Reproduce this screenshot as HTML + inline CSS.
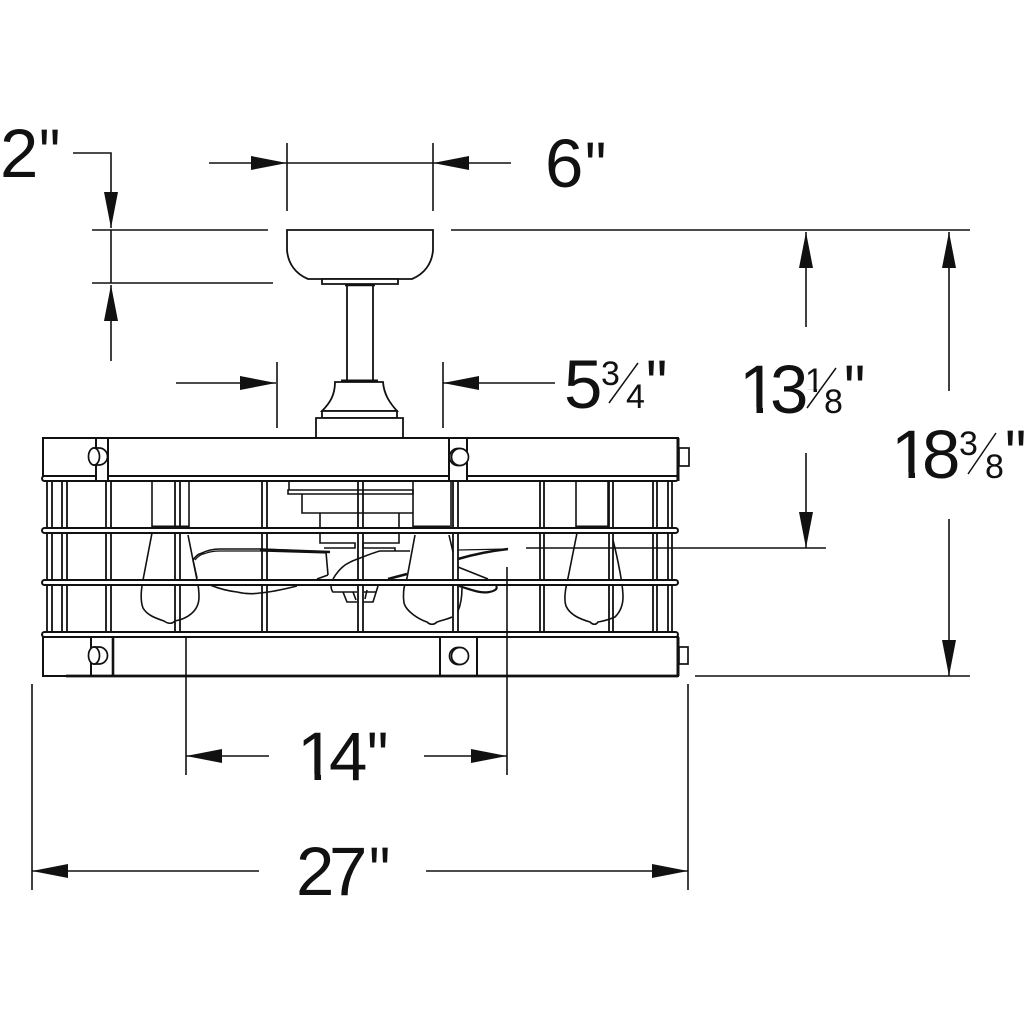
<!DOCTYPE html>
<html><head><meta charset="utf-8"><style>
html,body{margin:0;padding:0;background:#fff}
svg{display:block}
text{font-family:"Liberation Sans",sans-serif;fill:#111}
.b{font-size:69px}
.s{font-size:34px}
</style></head><body>
<svg width="1024" height="1024" viewBox="0 0 1024 1024" xmlns="http://www.w3.org/2000/svg">
<rect width="1024" height="1024" fill="#fff"/>
<!-- canopy & stem -->
<g fill="#fff" stroke="#111" stroke-width="1.8">
<path d="M287 230H433V250C432 264 424 274 412 279H308C296 274 288 264 287 250Z"/>
<path d="M322 279H398V284H322Z"/>
<path d="M345 285H375" stroke-width="2.500"/>
<path d="M347 285V381M373 285V381"/>
<path d="M341 381H378" stroke-width="3"/>
<path d="M335 382H383C384 395 390 403 397 411H322C330 403 335 395 335 382Z"/>
<path d="M322 411H397V418H322Z"/>
<path d="M316 418H403V438H316Z"/>
</g>
<!-- motor parts behind the cage -->
<g fill="none" stroke="#111" stroke-width="1.6">
<path d="M289 481V490M288 490H413V494H288ZM302 494V513H413M320 513V543H355V548H324M363 548V543H399V513M363 548H395V551"/>
<path d="M413 481V527M451 481V527"/>
<path d="M152 481V527M189 481V527M576 481V527M608 481V527"/>
<!-- bulbs -->
<path d="M152 527H189M413 527H450M576 527H608" stroke-width="3"/>
<path d="M152 533L143 580C141 590 140 600 143 608C147 615 155 618 164 621C168 624 172 624 175 621C186 619 199 612 199 597C199 588 198 584 197 580L188 535"/>
<path d="M415 535L407 578C403 587 403 597 404 603C406 611 418 619 427 622C430 625 434 625 437 622C443 620 448 619 452 617M449 535L453 552M462 588C462 596 461 604 458 611"/>
<path d="M577 533L567 583C565 590 564 600 566 606C570 615 580 619 590 622C593 625 596 625 598 622C604 621 608 620 615 617C620 612 623 606 623 597C623 585 618 560 613 540"/>
<!-- blades -->
<path d="M193 560C196 556 198 554 202 553C208 550 214 549 220 549L260 549L330 552" stroke-width="1.6"/>
<path d="M260 549.500L330 552" stroke-width="2.600"/>
<path d="M195 560C198 556 202 554 205 553.500C210 551.500 215 551 220 551L260 551L327 553" stroke-width="1.200"/>
<path d="M193 560L197 578M210 585C220 589 228 591 237 592C245 594 253 594 260 593C272 592 285 589 297 586"/>
<path d="M317 579L328 575" stroke-width="1.600"/>
<path d="M326 552L328 575"/>
<path d="M333 579C337 572 341 568 345 565C350 562 352 561 355 560C363 557 372 553 380 551H410"/>
<path d="M388 579L407 574" stroke-width="2.600"/>
<path d="M458 550L508 549" stroke-width="1.200"/>
<path d="M458 559C475 554 490 551 508 549" stroke-width="2.600"/>
<path d="M458 567L488 579"/>
<path d="M459 586C466 588 473 591 480 592C486 593 492 592 495 590C497 589 497 587 496 586" stroke-width="2.200"/>
<path d="M331 585C331 589 332 591 333 592H357M343 592L347 602H357M353 592L356 600M378 586L373 602H363M367 590L365 599M364 592H376"/>
</g>
<!-- cage vertical bars -->
<g fill="none" stroke="#111" stroke-width="1.8">
<path d="M47 481V632M52 481V632M62 481V632M67 481V632M106 481V632M111 481V632M175 481V632M180 481V632M262 481V632M267 481V632M358 481V632M363 481V632M453 481V632M458 481V632M540 481V632M544 481V632M609 481V632M613 481V632M653 481V632M657 481V632M668 481V632M672 481V632"/>
</g>
<!-- horizontal rails -->
<g fill="#fff" stroke="#111" stroke-width="2">
<rect x="42" y="528" width="636" height="5" rx="2.500"/>
<rect x="42" y="580" width="636" height="5" rx="2.500"/>
<!-- top band -->
<rect x="43" y="438" width="635" height="38"/>
<rect x="42" y="476" width="636" height="5" rx="2.500"/>
<rect x="96" y="438" width="12" height="43"/>
<rect x="449" y="438" width="18" height="43"/>
<!-- bottom band -->
<rect x="43" y="637" width="635" height="39"/>
<rect x="42" y="632" width="636" height="5" rx="2.500"/>
<rect x="91" y="637" width="22" height="39"/>
<rect x="440" y="637" width="37" height="39"/>
</g>
<g fill="none" stroke="#111">
<path d="M66 676H678" stroke-width="2.800"/>
<path d="M113 637V676" stroke-width="2.600"/>
<path d="M678 438V481M678 637V676" stroke-width="3"/>
</g>
<!-- bolts -->
<g fill="#fff" stroke="#111" stroke-width="1.7">
<path d="M94 448H99A8.500 8.500 0 0 1 99 465H94Z"/>
<ellipse cx="94" cy="456.500" rx="5.500" ry="8.500"/>
<path d="M94 647H99A8.500 8.500 0 0 1 99 664H94Z"/>
<ellipse cx="94" cy="655.500" rx="5.500" ry="8.500"/>
<circle cx="458" cy="457" r="8.500"/><circle cx="460" cy="457" r="8.500"/>
<circle cx="458" cy="656" r="8.500"/><circle cx="460" cy="656" r="8.500"/>
<rect x="679" y="448" width="10" height="18"/>
<rect x="679" y="647" width="9" height="17"/>
</g>
<!-- dimension lines -->
<g fill="none" stroke="#111" stroke-width="1.6">
<path d="M73 153H111V228M111 230V283M111 285V361M92 230H268M92 283H273M209 163H511M287 143V211M433 143V211"/>
<path d="M451 230H970M806 232V327M806 453V548M949 232V391M949 519V676M526 548H826M695 676H970"/>
<path d="M176 383H276M443 383H555M277 362V428M443 362V428"/>
<path d="M186 637V775M507 567V775M186 756H269M424 756H507"/>
<path d="M32 684V890M688 684V890M32 871H259M426 871H688"/>
</g>
<g fill="#111">
<path d="M111 228l-7-36h14zM111 285l-7 36h14z"/>
<path d="M287 163l-36-7v14zM433 163l36-7v14z"/>
<path d="M806 232l-7 36h14zM806 548l-7-36h14z"/>
<path d="M949 232l-7 36h14zM949 676l-7-36h14z"/>
<path d="M276 383l-36-7v14zM443 383l36-7v14z"/>
<path d="M186 756l36-7v14zM507 756l-36-7v14z"/>
<path d="M32 871l36-7v14zM688 871l-36-7v14z"/>
</g>
<!-- labels -->
<text class="b" x="0" y="177">2</text><text class="b" x="39" y="177" textLength="21.300" lengthAdjust="spacingAndGlyphs">"</text>
<text class="b" x="545" y="187">6</text><text class="b" x="585" y="190" textLength="21.300" lengthAdjust="spacingAndGlyphs">"</text>
<text class="b" x="564" y="408">5</text>
<text class="s" x="601" y="385">3</text>
<text class="s" x="626" y="408">4</text>
<text class="b" x="646" y="408" textLength="21.300" lengthAdjust="spacingAndGlyphs">"</text>

<text class="b" x="739" y="413">1</text>
<path d="M743 407h13.500v7h-13.500zM763 407h16v7h-16z" fill="#fff"/>
<text class="b" x="770" y="413">3</text>
<text class="s" x="805" y="392">1</text>
<path d="M807 389.500h6.500v3.500h-6.500zM817 389.500h7v3.500h-7z" fill="#fff"/>
<text class="s" x="824" y="413">8</text>
<text class="b" x="844" y="413" textLength="21.300" lengthAdjust="spacingAndGlyphs">"</text>

<text class="b" x="891" y="478">1</text>
<path d="M895 472h13.500v7h-13.500zM915 472h16v7h-16z" fill="#fff"/>
<text class="b" x="922" y="478">8</text>
<text class="s" x="959" y="455">3</text>
<text class="s" x="985" y="478">8</text>
<text class="b" x="1005" y="478" textLength="21.300" lengthAdjust="spacingAndGlyphs">"</text>

<text class="b" x="297" y="780">1</text>
<path d="M301 774h13.500v7h-13.500zM321 774h16v7h-16z" fill="#fff"/>
<text class="b" x="329" y="780">4</text><text class="b" x="367" y="780" textLength="21.300" lengthAdjust="spacingAndGlyphs">"</text>
<text class="b" x="296" y="895">2</text><text class="b" x="329" y="895">7</text><text class="b" x="369" y="895" textLength="21.300" lengthAdjust="spacingAndGlyphs">"</text>
<g stroke="#111" stroke-width="1.500">
<path d="M609 403L638 363M807 408L836 368M968 474L996 433"/>
</g>
</svg>
</body></html>
